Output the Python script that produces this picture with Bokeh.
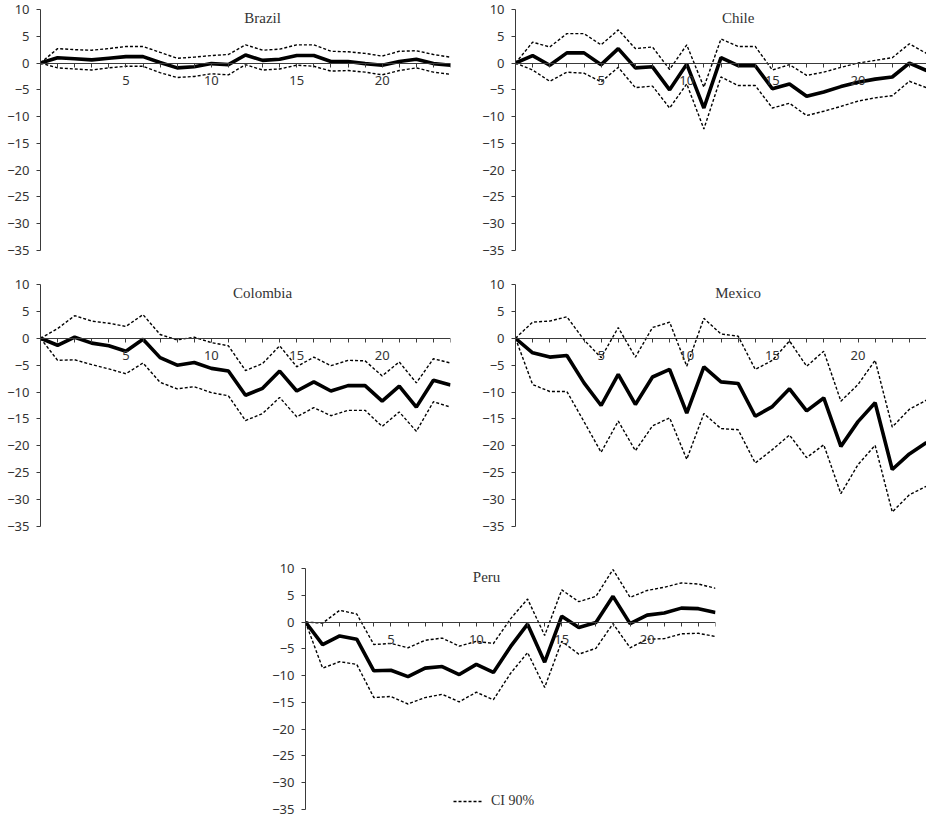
from bokeh.plotting import figure
from bokeh.layouts import column, row
from bokeh.models import Range1d, FixedTicker, Label, Legend, LegendItem, Spacer
from bokeh.embed import file_html
from bokeh.resources import INLINE

# ---------------- data ----------------
horizon = list(range(25))

brazil_irf = [0, 1.0, 0.8, 0.6, 0.9, 1.2, 1.2, 0.1, -0.9, -0.7, -0.1, -0.3, 1.5, 0.5, 0.7,
              1.4, 1.4, 0.3, 0.3, -0.1, -0.4, 0.3, 0.7, -0.1, -0.4]
brazil_upper = [0, 2.7, 2.5, 2.4, 2.7, 3.1, 3.1, 2.0, 0.9, 1.1, 1.4, 1.6, 3.4, 2.4, 2.6,
                3.4, 3.4, 2.2, 2.1, 1.8, 1.3, 2.2, 2.3, 1.6, 1.1]
brazil_lower = [0, -0.9, -1.1, -1.3, -0.9, -0.6, -0.6, -1.8, -2.7, -2.5, -2.0, -2.2, -0.3, -1.3, -1.1,
                -0.4, -0.6, -1.5, -1.4, -1.7, -2.2, -1.4, -0.9, -1.7, -2.1]

chile_irf = [0, 1.4, -0.4, 1.9, 1.9, -0.3, 2.7, -0.9, -0.7, -5.0, -0.2, -8.4, 1.0, -0.5, -0.5,
             -4.8, -3.9, -6.2, -5.4, -4.4, -3.6, -3.0, -2.6, 0.0, -1.4]
chile_upper = [0, 3.9, 3.0, 5.5, 5.5, 3.4, 6.2, 2.7, 3.0, -1.2, 3.4, -4.5, 4.5, 3.1, 3.1,
               -1.3, -0.3, -2.3, -1.7, -0.8, 0.0, 0.5, 1.0, 3.6, 1.8]
chile_lower = [0, -1.3, -3.4, -1.7, -1.9, -3.5, -0.8, -4.6, -4.3, -8.4, -3.9, -12.3, -2.6, -4.2, -4.2,
               -8.4, -7.5, -9.8, -9.0, -8.1, -7.1, -6.5, -6.1, -3.4, -4.6]

colombia_irf = [0, -1.3, 0.2, -0.9, -1.4, -2.4, -0.2, -3.6, -5.0, -4.5, -5.6, -6.1, -10.6, -9.3, -6.1,
                -9.8, -8.1, -9.8, -8.8, -8.8, -11.7, -8.9, -12.8, -7.8, -8.7]
colombia_upper = [0, 1.8, 4.2, 3.2, 2.8, 2.2, 4.4, 0.7, -0.3, 0.2, -0.8, -1.4, -6.0, -4.7, -1.4,
                  -5.3, -3.5, -5.1, -4.1, -4.2, -7.0, -4.4, -8.3, -3.8, -4.6]
colombia_lower = [0, -4.1, -4.0, -4.9, -5.7, -6.6, -4.6, -8.2, -9.4, -9.0, -10.1, -10.7, -15.3, -14.0, -11.0,
                  -14.6, -12.9, -14.4, -13.4, -13.4, -16.4, -13.7, -17.3, -11.8, -12.8]

mexico_irf = [0, -2.7, -3.5, -3.2, -8.3, -12.5, -6.7, -12.3, -7.2, -5.8, -13.9, -5.3, -8.1, -8.4, -14.5,
              -12.7, -9.4, -13.5, -11.1, -20.1, -15.5, -12.0, -24.4, -21.5, -19.4]
mexico_upper = [0, 3.0, 3.2, 4.0, -0.3, -3.6, 2.0, -3.5, 2.0, 3.0, -5.2, 3.7, 0.8, 0.4, -5.8,
                -4.1, -0.5, -5.2, -2.4, -11.7, -8.6, -4.1, -16.5, -13.2, -11.5]
mexico_lower = [0, -8.6, -9.9, -9.9, -15.5, -21.2, -15.4, -20.9, -16.3, -14.8, -22.5, -14.0, -16.8, -17.0, -23.2,
                -20.7, -18.0, -22.2, -19.8, -28.9, -23.5, -19.9, -32.3, -29.1, -27.5]

peru_irf = [0, -4.2, -2.6, -3.2, -9.1, -9.0, -10.2, -8.6, -8.3, -9.8, -7.9, -9.4, -4.6, -0.4, -7.5,
            1.1, -1.0, -0.1, 4.8, -0.3, 1.3, 1.7, 2.6, 2.5, 1.8]
peru_upper = [0, -0.2, 2.2, 1.5, -4.2, -4.0, -4.8, -3.4, -3.0, -4.5, -3.6, -4.0, 0.6, 4.3, -2.5,
              6.0, 3.8, 4.8, 9.8, 4.6, 5.9, 6.5, 7.3, 7.1, 6.3]
peru_lower = [0, -8.6, -7.4, -7.9, -14.1, -13.9, -15.3, -14.1, -13.5, -14.9, -13.1, -14.5, -9.6, -5.7, -12.2,
              -3.6, -6.0, -4.9, -0.3, -4.8, -3.2, -3.1, -2.2, -2.1, -2.7]

countries = ["Brazil", "Chile", "Colombia", "Mexico", "Peru"]
title_x = [13, 13, 13, 13, 10.6]

y_ticks = [10, 5, 0, -5, -10, -15, -20, -25, -30, -35]
y_tick_labels = ["10", "5", "0", "\u22125", "\u221210", "\u221215", "\u221220", "\u221225", "\u221230", "\u221235"]
x_ticks = list(range(0, 25))
x_tick_labels = {5: "5", 10: "10", 15: "15", 20: "20"}
legend_label = "CI 90%"

# ---------------- styling ----------------
TICK_FONT = "Noto Sans"
TEXT_FONT = "Liberation Serif"
AXIS_COLOR = "#3a3a3a"


def make_panel(name, tx, irf, upper, lower, width, height, left, right, top, bottom, with_legend=False):
    p = figure(width=width, height=height, x_range=Range1d(0, 24), y_range=Range1d(-35, 10),
               output_backend="svg", toolbar_location=None,
               min_border_left=left, min_border_right=right,
               min_border_top=top, min_border_bottom=bottom)
    p.xgrid.visible = False
    p.ygrid.visible = False
    p.outline_line_color = None
    p.background_fill_color = "white"

    # x axis crossing at zero
    xa = p.xaxis[0]
    xa.fixed_location = 0
    xa.ticker = FixedTicker(ticks=x_ticks)
    xa.major_label_overrides = {t: x_tick_labels.get(t, "") for t in x_ticks}
    ya = p.yaxis[0]
    ya.ticker = FixedTicker(ticks=y_ticks)
    ya.major_label_overrides = {t: l for t, l in zip(y_ticks, y_tick_labels)}
    for ax in (xa, ya):
        ax.axis_line_color = AXIS_COLOR
        ax.axis_line_width = 1
        ax.major_tick_line_color = AXIS_COLOR
        ax.major_tick_out = 4
        ax.major_tick_in = 0
        ax.minor_tick_line_color = None
        ax.major_label_text_font = TICK_FONT
        ax.major_label_text_font_size = "13px"
        ax.major_label_text_color = "#333333"
    xa.major_label_standoff = 9
    ya.major_label_standoff = 7

    ru = p.line(horizon, upper, line_color="black", line_width=1.4, line_dash="3 2")
    p.line(horizon, lower, line_color="black", line_width=1.4, line_dash="3 2")
    p.line(horizon, irf, line_color="black", line_width=3.6)

    p.add_layout(Label(x=tx, y=10, text=name, text_font=TEXT_FONT, text_font_size="15px",
                       text_font_style="normal", text_align="center", text_baseline="top",
                       text_color="#333333"))

    if with_legend:
        leg = Legend(items=[LegendItem(label=legend_label, renderers=[ru])],
                     location=(148, 0), orientation="horizontal",
                     border_line_color=None, background_fill_alpha=0,
                     padding=0, margin=0, spacing=0,
                     glyph_width=30, glyph_height=14, label_standoff=8,
                     label_text_font=TEXT_FONT, label_text_font_size="14px",
                     label_text_color="#333333")
        p.add_layout(leg)
    return p


p_br = make_panel(countries[0], title_x[0], brazil_irf, brazil_upper, brazil_lower,
                  466, 275, 40, 16, 9, 25)
p_cl = make_panel(countries[1], title_x[1], chile_irf, chile_upper, chile_lower,
                  460, 275, 49, 0, 9, 25)
p_co = make_panel(countries[2], title_x[2], colombia_irf, colombia_upper, colombia_lower,
                  466, 284, 40, 16, 9, 33)
p_mx = make_panel(countries[3], title_x[3], mexico_irf, mexico_upper, mexico_lower,
                  460, 284, 49, 0, 9, 33)
p_pe = make_panel(countries[4], title_x[4], peru_irf, peru_upper, peru_lower,
                  466, 260, 40, 16, 9, 10, with_legend=True)

layout = column(row(p_br, p_cl), row(p_co, p_mx), row(Spacer(width=265, height=260), p_pe))

open("out.html", "w").write(file_html(layout, INLINE))
